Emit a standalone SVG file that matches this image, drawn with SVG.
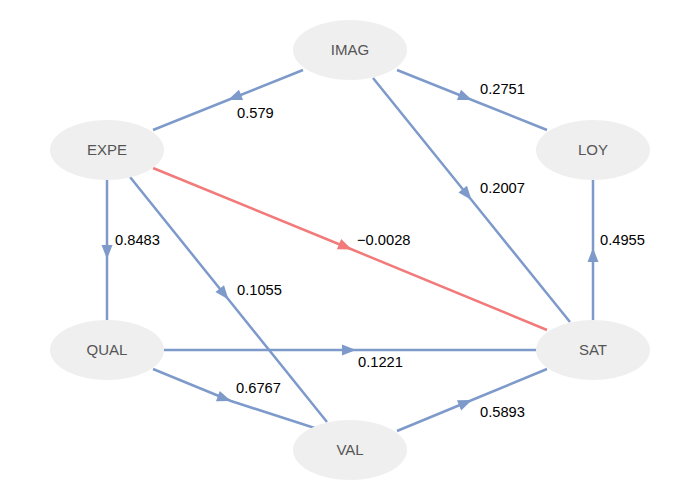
<svg xmlns="http://www.w3.org/2000/svg" width="700" height="500" viewBox="0 0 700 500">
<defs>
<marker id="ab" markerUnits="userSpaceOnUse" markerWidth="16" markerHeight="12" viewBox="-14 -6 16 12" refX="2" refY="0" orient="auto"><path d="M2,0 L-12,-5.5 L-12,5.5 Z" fill="#7d9acb"/></marker>
<marker id="ar" markerUnits="userSpaceOnUse" markerWidth="16" markerHeight="12" viewBox="-14 -6 16 12" refX="2" refY="0" orient="auto"><path d="M2,0 L-12,-5.5 L-12,5.5 Z" fill="#f27a7a"/></marker>
</defs>
<style>
.e{fill:none;stroke:#7d9acb;stroke-width:2.5;marker-mid:url(#ab)}
.r{fill:none;stroke:#f27a7a;stroke-width:2.5;marker-mid:url(#ar)}
.n ellipse{fill:#efefef}
.n text{font-family:"Liberation Sans",Arial,sans-serif;font-size:15px;fill:#555;text-anchor:middle}
.l{font-family:"Liberation Sans",Arial,sans-serif;font-size:14.7px;fill:#000}
</style>
<rect width="700" height="500" fill="#fff"/>
<g id="edges">
<path class="e" d="M303,70 L228,100 L153,130"/>
<path class="e" d="M397,70 L472,100 L547,130"/>
<path class="e" d="M373,78 L471.5,200 L570,322"/>
<path class="r" d="M153,168 L352,249.5 L547,330"/>
<path class="e" d="M107,180 L107,259 L107,320"/>
<path class="e" d="M130,177 L228.5,299.5 L327,422"/>
<path class="e" d="M164,350 L356,350 L536,350"/>
<path class="e" d="M153,369 L231,401 L327,432"/>
<path class="e" d="M397,431 L472,400 L547,369"/>
<path class="e" d="M593,320 L593,248 L593,180"/>
<text class="l" x="237" y="118">0.579</text>
<text class="l" x="480" y="94">0.2751</text>
<text class="l" x="480" y="193">0.2007</text>
<text class="l" x="357" y="245">−0.0028</text>
<text class="l" x="115" y="245">0.8483</text>
<text class="l" x="237" y="295">0.1055</text>
<text class="l" x="358" y="367">0.1221</text>
<text class="l" x="236" y="393">0.6767</text>
<text class="l" x="480" y="417">0.5893</text>
<text class="l" x="600" y="245">0.4955</text>
</g>
<g id="IMAG" class="n"><ellipse cx="350" cy="50" rx="57" ry="30"/><text x="350" y="55">IMAG</text></g>
<g id="EXPE" class="n"><ellipse cx="107" cy="150" rx="57" ry="30"/><text x="107" y="155">EXPE</text></g>
<g id="LOY" class="n"><ellipse cx="593" cy="150" rx="57" ry="30"/><text x="593" y="155">LOY</text></g>
<g id="QUAL" class="n"><ellipse cx="107" cy="350" rx="57" ry="30"/><text x="107" y="355">QUAL</text></g>
<g id="SAT" class="n"><ellipse cx="593" cy="350" rx="57" ry="30"/><text x="593" y="355">SAT</text></g>
<g id="VAL" class="n"><ellipse cx="350" cy="450" rx="57" ry="30"/><text x="350" y="455">VAL</text></g>
</svg>
